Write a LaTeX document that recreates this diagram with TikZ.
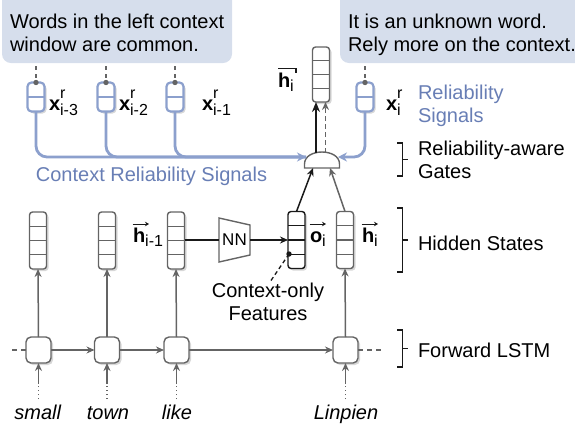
\documentclass[tikz,border=0pt]{standalone}
\usepackage{fontspec}
\setmainfont{Liberation Sans}
\usetikzlibrary{arrows.meta,calc,shadows}
\definecolor{bub}{RGB}{214,222,236}
\definecolor{sigline}{RGB}{140,160,205}
\definecolor{sigtext}{RGB}{104,126,181}
\definecolor{gline}{RGB}{100,100,100}
\definecolor{dark}{RGB}{25,25,25}
\newcommand{\subsz}{\fontsize{16}{16}\selectfont}
\newcommand{\xr}[1]{\textbf{x}\rlap{\raisebox{0.58em}{\subsz r}}\raisebox{-0.28em}{\subsz #1}}
\tikzset{
  cells/.style 2 args={path picture={
      \foreach \k in {1,...,#1}{
        \draw[#2,line width=1.3pt]
          ($(path picture bounding box.north west)!{\k/(#1+1)}!(path picture bounding box.south west)$) --
          ($(path picture bounding box.north east)!{\k/(#1+1)}!(path picture bounding box.south east)$);
      }}},
  shad/.style={drop shadow={shadow xshift=2pt,shadow yshift=-2pt,fill=black!35,opacity=0.45}},
  vecbox/.style={draw=gline,line width=1.4pt,fill=white,rounded corners=3pt,minimum width=17pt,minimum height=57pt,shad,cells={3}{gline}},
  sigbox/.style={draw=sigline,line width=2.2pt,fill=white,rounded corners=4pt,minimum width=17pt,minimum height=29pt,shad,cells={1}{sigline}},
  lstmbox/.style={draw=gline,line width=1.4pt,fill=white,rounded corners=5pt,minimum width=25pt,minimum height=26pt,shad},
  bubble/.style={fill=bub,rounded corners=9pt,minimum height=75pt,anchor=south west},
  garrow/.style={draw=gline,line width=1.5pt,-{Stealth[length=8pt,width=7pt]}},
  karrow/.style={draw=dark,line width=1.5pt,-{Stealth[length=8pt,width=7pt]}},
  sigarrow/.style={draw=sigline,line width=2.8pt,rounded corners=11pt,-{Stealth[length=9pt,width=9pt]}},
  sigline/.style={draw=sigline,line width=2.8pt,rounded corners=11pt},
  bracket/.style={draw=dark,line width=1.4pt},
  lab/.style={anchor=base west},
  overarrow/.style={draw=dark,line width=1pt,-{Stealth[length=4pt,width=4.5pt]}},
}
\begin{document}
\begin{tikzpicture}[x=1pt,y=-1pt,font=\fontsize{20}{23}\selectfont,
  every node/.style={inner sep=0pt,outer sep=0pt}]
\useasboundingbox (0,0) rectangle (575,432);

% bubbles
\node[bubble,minimum width=230pt] (bubL) at (2,63) {};
\node[bubble,minimum width=245pt] (bubR) at (340,63) {};
\node[anchor=north west,align=left] (tL) at (10,14.5) {Words in the left context\\window are common.};
\node[anchor=north west,align=left] (tR) at (348,14) {It is an unknown word.\\Rely more on the context.};

% reliability signal boxes
\node[sigbox] (s1) at (36,97) {};
\node[sigbox] (s2) at (106,97) {};
\node[sigbox] (s3) at (175,97) {};
\node[sigbox] (s4) at (365,97) {};
\foreach \s in {s1,s2,s3,s4}{
  \draw[gline,line width=1.2pt,dash pattern=on 4pt off 4pt] ($(\s.north |- bubL.south)+(0,3)$) -- (\s.north);
  \fill[gline] (\s.north) circle (2.7pt);
}
\node[lab] (lx3) at (49,110) {\xr{i-3}};
\node[lab] (lx2) at (119,110) {\xr{i-2}};
\node[lab] (lx1) at (202,110) {\xr{i-1}};
\node[lab] (lxi) at (386,110) {\xr{i}};
\node[anchor=north west,align=left,text=sigtext] (rs) at (418,85.5) {Reliability\\Signals};
\node[anchor=base,text=sigtext] (crs) at (151.5,181) {Context Reliability Signals};

% gate
\coordinate (gL) at (306,157);
\coordinate (gR) at (338,157);
\coordinate (gTL) at (316,153);
\coordinate (gTR) at (325.5,153);
\coordinate (gBL) at (313,168);
\coordinate (gBR) at (330,168);
\draw[gline,line width=1.4pt,fill=white] (304.5,168) -- (304.5,164) .. controls (304.5,148) and (339.5,148) .. (339.5,164) -- (339.5,168) -- cycle;

\draw[sigarrow] (s1.south) |- (gL);
\draw[sigline] (s2.south) |- (gL);
\draw[sigline] (s3.south) |- (gL);
\draw[sigarrow] (s4.south) |- (gR);

% top output vector
\node[vecbox,minimum height=55pt] (htop) at (321,74.5) {};
\node[lab] (lhtop) at (278,87) {\textbf{h}\raisebox{-0.2em}{\subsz i}};
\draw[dark,line width=1.1pt] (lhtop.west |- 0,68.5) -- ++(18,0) -- ++(0,4);
\draw[draw=dark,line width=2.8pt,-{Stealth[length=10pt,width=8pt]}] (gTL) -- (gTL |- htop.south);
\draw[garrow,dash pattern=on 5pt off 3pt] (gTR) -- (gTR |- htop.south);

% hidden states
\node[vecbox] (hs) at (38,240.5) {};
\node[vecbox] (ht) at (107,240.5) {};
\node[vecbox] (hl) at (176,240.5) {};
\node[vecbox,draw=dark,cells={3}{dark}] (ho) at (296.5,240) {};
\node[vecbox] (hh) at (345,240) {};
\node[lab] (lhl) at (133,242) {\textbf{h}\raisebox{-0.2em}{\subsz i-1}};
\node[lab] (lho) at (310,242) {\textbf{o}\raisebox{-0.2em}{\subsz i}};
\node[lab] (lhh) at (362,242) {\textbf{h}\raisebox{-0.2em}{\subsz i}};
\foreach \l in {lhl,lho,lhh}{
  \draw[overarrow] ($(\l.west |- 0,224)+(-0.5,0)$) -- ++(16.5,0);
}

% NN
\node[minimum width=31pt,minimum height=44pt,font=\fontsize{17}{17}\selectfont] (nn) at (234.5,240) {NN};
\draw[gline,line width=1.4pt] (nn.north west) -- ($(nn.north east)+(0,7)$) -- ($(nn.south east)+(0,-7)$) -- (nn.south west) -- cycle;
\draw[draw=dark,line width=1.4pt] (hl.east |- nn.west) -- (nn.west);
\draw[karrow] (nn.east) -- (ho.west |- nn.east);

% context-only features
\coordinate (odot) at (289,254);
\fill[dark] (odot) circle (2.7pt);
\node[anchor=north,align=center] (cof) at (268,282.5) {Context-only\\Features};
\draw[dark,line width=1.3pt,dash pattern=on 4pt off 3pt] (odot) -- ($(cof.north)+(3,-2)$);

% into gate
\draw[karrow] (ho.north) -- (gBL);
\draw[garrow] (hh.north) -- (gBR);

% LSTM
\node[lstmbox] (ls) at (38.5,350) {};
\node[lstmbox] (lt) at (107,350) {};
\node[lstmbox] (ll) at (176.5,350) {};
\node[lstmbox] (lL) at (345.5,350) {};
\coordinate (lin) at (12,350);
\coordinate (lout) at (384,350);
\draw[gline,line width=1.4pt,dash pattern=on 5pt off 4pt] (lin) -- (ls.west);
\draw[gline,line width=1.4pt,dash pattern=on 5pt off 4pt] (lL.east) -- (lout);
\draw[garrow] (ls.east) -- (lt.west);
\draw[garrow] (lt.east) -- (ll.west);
\draw[garrow] (ll.east) -- (lL.west);
\draw[garrow] (ls.north) -- (hs.south);
\draw[garrow] (lt.north) -- (ht.south);
\draw[garrow] (ll.north) -- (hl.south);
\draw[garrow] (lL.north) -- (hh.south);

% words
\foreach \n/\x/\w in {ws/38/small,wt/108/town,wl/177/like,wL/346/Linpien}{
  \node[anchor=base] (\n) at (\x,419) {\textit{\w}};
}
\foreach \b/\w in {ls/ws,lt/wt,ll/wl,lL/wL}{
  \coordinate (c\w) at (\b.south |- 0,384);
  \coordinate (d\w) at (\b.south |- 0,399);
  \draw[garrow] (c\w) -- (\b.south);
  \draw[gline,line width=1.5pt,dash pattern=on 1.4pt off 2.6pt] (d\w) -- (c\w);
}

% brackets
\draw[bracket] (397,143) -- (402.5,143) -- (402.5,176) -- (397,176);
\draw[bracket] (402.5,159.5) -- (408,159.5);
\node[anchor=north west,align=left] (rg) at (418,141.5) {Reliability-aware\\Gates};
\draw[bracket] (397,208) -- (402.5,208) -- (402.5,272) -- (397,272);
\draw[bracket] (402.5,240) -- (408,240);
\node[lab] (rh) at (418,250) {Hidden States};
\draw[bracket] (397,330) -- (402.5,330) -- (402.5,367) -- (397,367);
\draw[bracket] (402.5,348.5) -- (408,348.5);
\node[lab] (rf) at (418,357) {Forward LSTM};
\end{tikzpicture}
\end{document}
